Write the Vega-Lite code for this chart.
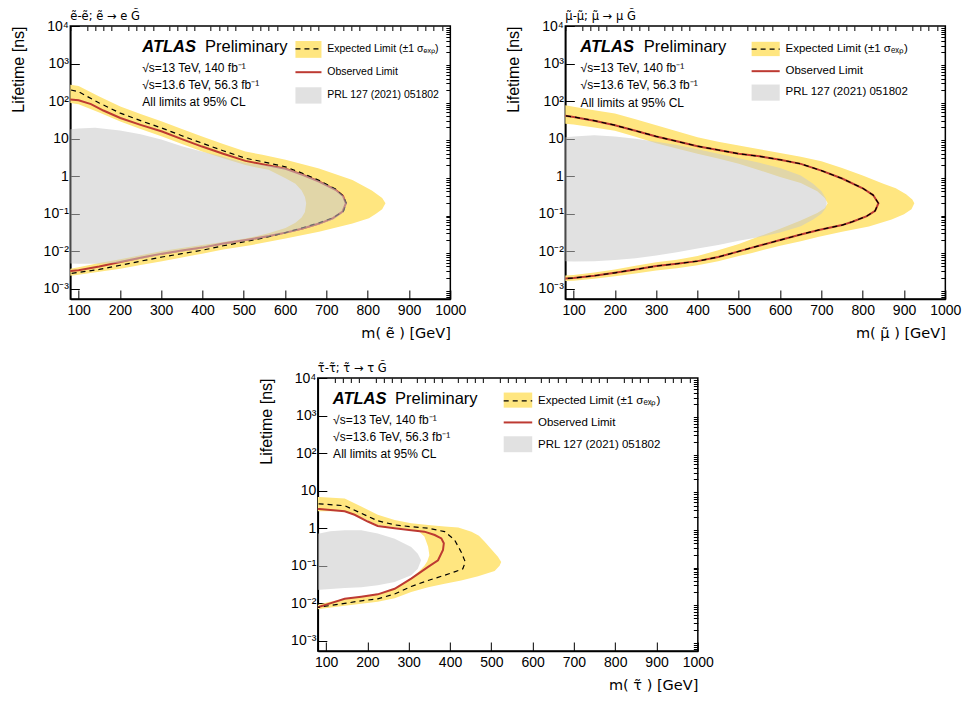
{
"$schema": "https://vega.github.io/schema/vega-lite/v6.json",
"background": "white",
"padding": {"left": 9, "top": 9, "right": 0, "bottom": 0},
"config": {
  "font": "Liberation Sans",
  "view": {"stroke": "black", "strokeWidth": 1.5},
  "axis": {"grid": false, "tickColor": "black", "domainColor": "black", "labelColor": "black", "titleColor": "black", "labelFont": "Liberation Sans", "titleFont": "Liberation Sans", "labelFontSize": 14, "titleFontSize": 16, "titleFontWeight": "normal", "zindex": 1, "labelFlush": false, "labelOverlap": false, "tickWidth": 1},
  "title": {"font": "DejaVu Sans", "fontSize": 11.5, "fontWeight": "normal", "color": "black", "anchor": "start", "frame": "group", "offset": -3}
},
"datasets": {
"p1": [
{"s":"band","i":0,"m":60,"t":295},{"s":"band","i":1,"m":80,"t":275},{"s":"band","i":2,"m":100,"t":251},{"s":"band","i":3,"m":150,"t":132},{"s":"band","i":4,"m":201,"t":72.4},{"s":"band","i":5,"m":250,"t":45.7},{"s":"band","i":6,"m":302,"t":28.8},{"s":"band","i":7,"m":350,"t":18.2},{"s":"band","i":8,"m":399,"t":11.5},{"s":"band","i":9,"m":450,"t":7.24},{"s":"band","i":10,"m":504,"t":4.57},{"s":"band","i":11,"m":545,"t":3.72},{"s":"band","i":12,"m":601,"t":2.75},{"s":"band","i":13,"m":682,"t":1.62},{"s":"band","i":14,"m":763,"t":0.794},{"s":"band","i":15,"m":810,"t":0.417},{"s":"band","i":16,"m":835,"t":0.263},{"s":"band","i":17,"m":843,"t":0.191},{"s":"band","i":18,"m":835,"t":0.132},{"s":"band","i":19,"m":820,"t":0.1},{"s":"band","i":20,"m":803,"t":0.0759},{"s":"band","i":21,"m":763,"t":0.055},{"s":"band","i":22,"m":682,"t":0.0331},{"s":"band","i":23,"m":601,"t":0.0219},{"s":"band","i":24,"m":520,"t":0.0148},{"s":"band","i":25,"m":450,"t":0.0112},{"s":"band","i":26,"m":399,"t":0.00871},{"s":"band","i":27,"m":350,"t":0.00692},{"s":"band","i":28,"m":302,"t":0.0055},{"s":"band","i":29,"m":250,"t":0.00437},{"s":"band","i":30,"m":201,"t":0.00347},{"s":"band","i":31,"m":150,"t":0.00288},{"s":"band","i":32,"m":100,"t":0.0024},{"s":"band","i":33,"m":80,"t":0.00224},{"s":"band","i":34,"m":60,"t":0.00214},
{"s":"band","i":35,"m":60,"t":0.00331},{"s":"band","i":36,"m":80,"t":0.00347},{"s":"band","i":37,"m":100,"t":0.0038},{"s":"band","i":38,"m":150,"t":0.0049},{"s":"band","i":39,"m":201,"t":0.00617},{"s":"band","i":40,"m":250,"t":0.00794},{"s":"band","i":41,"m":302,"t":0.0102},{"s":"band","i":42,"m":350,"t":0.0123},{"s":"band","i":43,"m":399,"t":0.0148},{"s":"band","i":44,"m":450,"t":0.0178},{"s":"band","i":45,"m":504,"t":0.0219},{"s":"band","i":46,"m":560,"t":0.0302},{"s":"band","i":47,"m":601,"t":0.0417},{"s":"band","i":48,"m":625,"t":0.0575},{"s":"band","i":49,"m":640,"t":0.0794},{"s":"band","i":50,"m":648,"t":0.112},{"s":"band","i":51,"m":651,"t":0.191},{"s":"band","i":52,"m":648,"t":0.282},{"s":"band","i":53,"m":640,"t":0.417},{"s":"band","i":54,"m":625,"t":0.631},{"s":"band","i":55,"m":601,"t":0.891},{"s":"band","i":56,"m":560,"t":1.48},{"s":"band","i":57,"m":520,"t":1.82},{"s":"band","i":58,"m":504,"t":2.0},{"s":"band","i":59,"m":450,"t":3.02},{"s":"band","i":60,"m":399,"t":4.57},{"s":"band","i":61,"m":350,"t":7.24},{"s":"band","i":62,"m":302,"t":11.5},{"s":"band","i":63,"m":250,"t":18.2},{"s":"band","i":64,"m":201,"t":28.8},{"s":"band","i":65,"m":150,"t":50.1},{"s":"band","i":66,"m":100,"t":83.2},{"s":"band","i":67,"m":80,"t":89.1},{"s":"band","i":68,"m":60,"t":93.3},
{"s":"obs","i":0,"m":60,"t":112},{"s":"obs","i":1,"m":80,"t":110},{"s":"obs","i":2,"m":100,"t":105},{"s":"obs","i":3,"m":130,"t":83.2},{"s":"obs","i":4,"m":160,"t":56.2},{"s":"obs","i":5,"m":201,"t":35.5},{"s":"obs","i":6,"m":250,"t":23.4},{"s":"obs","i":7,"m":302,"t":15.5},{"s":"obs","i":8,"m":350,"t":9.77},{"s":"obs","i":9,"m":399,"t":6.17},{"s":"obs","i":10,"m":450,"t":3.98},{"s":"obs","i":11,"m":504,"t":2.57},{"s":"obs","i":12,"m":545,"t":2.09},{"s":"obs","i":13,"m":601,"t":1.58},{"s":"obs","i":14,"m":642,"t":1.1},{"s":"obs","i":15,"m":682,"t":0.724},{"s":"obs","i":16,"m":722,"t":0.437},{"s":"obs","i":17,"m":740,"t":0.302},{"s":"obs","i":18,"m":747,"t":0.191},{"s":"obs","i":19,"m":739,"t":0.115},{"s":"obs","i":20,"m":715,"t":0.0759},{"s":"obs","i":21,"m":682,"t":0.055},{"s":"obs","i":22,"m":642,"t":0.0407},{"s":"obs","i":23,"m":601,"t":0.0316},{"s":"obs","i":24,"m":561,"t":0.0257},{"s":"obs","i":25,"m":520,"t":0.0214},{"s":"obs","i":26,"m":450,"t":0.0162},{"s":"obs","i":27,"m":399,"t":0.0126},{"s":"obs","i":28,"m":350,"t":0.0105},{"s":"obs","i":29,"m":302,"t":0.00871},{"s":"obs","i":30,"m":250,"t":0.00676},{"s":"obs","i":31,"m":201,"t":0.00525},{"s":"obs","i":32,"m":150,"t":0.00398},{"s":"obs","i":33,"m":100,"t":0.00316},{"s":"obs","i":34,"m":80,"t":0.00302},{"s":"obs","i":35,"m":60,"t":0.00288},
{"s":"exp","i":0,"m":60,"t":209},{"s":"exp","i":1,"m":80,"t":200},{"s":"exp","i":2,"m":100,"t":178},{"s":"exp","i":3,"m":150,"t":89.1},{"s":"exp","i":4,"m":201,"t":47.9},{"s":"exp","i":5,"m":250,"t":30.2},{"s":"exp","i":6,"m":302,"t":19.1},{"s":"exp","i":7,"m":350,"t":12.0},{"s":"exp","i":8,"m":399,"t":7.59},{"s":"exp","i":9,"m":450,"t":4.79},{"s":"exp","i":10,"m":504,"t":3.02},{"s":"exp","i":11,"m":545,"t":2.45},{"s":"exp","i":12,"m":601,"t":1.78},{"s":"exp","i":13,"m":642,"t":1.2},{"s":"exp","i":14,"m":682,"t":0.776},{"s":"exp","i":15,"m":722,"t":0.457},{"s":"exp","i":16,"m":740,"t":0.302},{"s":"exp","i":17,"m":748,"t":0.191},{"s":"exp","i":18,"m":741,"t":0.117},{"s":"exp","i":19,"m":717,"t":0.0794},{"s":"exp","i":20,"m":682,"t":0.0575},{"s":"exp","i":21,"m":642,"t":0.0427},{"s":"exp","i":22,"m":601,"t":0.0316},{"s":"exp","i":23,"m":545,"t":0.0224},{"s":"exp","i":24,"m":504,"t":0.0182},{"s":"exp","i":25,"m":450,"t":0.0141},{"s":"exp","i":26,"m":399,"t":0.0107},{"s":"exp","i":27,"m":350,"t":0.00871},{"s":"exp","i":28,"m":302,"t":0.00708},{"s":"exp","i":29,"m":250,"t":0.0055},{"s":"exp","i":30,"m":201,"t":0.00427},{"s":"exp","i":31,"m":150,"t":0.00331},{"s":"exp","i":32,"m":100,"t":0.00275},{"s":"exp","i":33,"m":80,"t":0.00257},{"s":"exp","i":34,"m":60,"t":0.00245},
{"s":"prl","i":0,"m":60,"t":17.4},{"s":"prl","i":1,"m":80,"t":17.8},{"s":"prl","i":2,"m":100,"t":18.6},{"s":"prl","i":3,"m":140,"t":19.5},{"s":"prl","i":4,"m":200,"t":16.6},{"s":"prl","i":5,"m":250,"t":13.2},{"s":"prl","i":6,"m":300,"t":9.55},{"s":"prl","i":7,"m":350,"t":6.31},{"s":"prl","i":8,"m":400,"t":4.47},{"s":"prl","i":9,"m":450,"t":3.31},{"s":"prl","i":10,"m":500,"t":2.34},{"s":"prl","i":11,"m":550,"t":1.95},{"s":"prl","i":12,"m":580,"t":1.78},{"s":"prl","i":13,"m":601,"t":1.66},{"s":"prl","i":14,"m":642,"t":1.15},{"s":"prl","i":15,"m":682,"t":0.759},{"s":"prl","i":16,"m":722,"t":0.457},{"s":"prl","i":17,"m":741,"t":0.302},{"s":"prl","i":18,"m":750,"t":0.191},{"s":"prl","i":19,"m":742,"t":0.11},{"s":"prl","i":20,"m":717,"t":0.0708},{"s":"prl","i":21,"m":682,"t":0.0513},{"s":"prl","i":22,"m":642,"t":0.038},{"s":"prl","i":23,"m":601,"t":0.0295},{"s":"prl","i":24,"m":561,"t":0.024},{"s":"prl","i":25,"m":520,"t":0.02},{"s":"prl","i":26,"m":450,"t":0.0151},{"s":"prl","i":27,"m":399,"t":0.0117},{"s":"prl","i":28,"m":350,"t":0.00977},{"s":"prl","i":29,"m":302,"t":0.00813},{"s":"prl","i":30,"m":250,"t":0.00631},{"s":"prl","i":31,"m":201,"t":0.00501},{"s":"prl","i":32,"m":150,"t":0.00468},{"s":"prl","i":33,"m":100,"t":0.00468},{"s":"prl","i":34,"m":80,"t":0.00479},{"s":"prl","i":35,"m":60,"t":0.00479}
],
"p2": [
{"s":"band","i":0,"m":60,"t":79.4},{"s":"band","i":1,"m":80,"t":77.6},{"s":"band","i":2,"m":100,"t":70.8},{"s":"band","i":3,"m":150,"t":57.5},{"s":"band","i":4,"m":200,"t":46.8},{"s":"band","i":5,"m":250,"t":33.1},{"s":"band","i":6,"m":300,"t":22.9},{"s":"band","i":7,"m":350,"t":15.8},{"s":"band","i":8,"m":400,"t":11.0},{"s":"band","i":9,"m":450,"t":8.32},{"s":"band","i":10,"m":500,"t":6.61},{"s":"band","i":11,"m":550,"t":5.25},{"s":"band","i":12,"m":600,"t":4.17},{"s":"band","i":13,"m":650,"t":3.31},{"s":"band","i":14,"m":700,"t":2.51},{"s":"band","i":15,"m":750,"t":1.66},{"s":"band","i":16,"m":800,"t":1.05},{"s":"band","i":17,"m":850,"t":0.631},{"s":"band","i":18,"m":880,"t":0.479},{"s":"band","i":19,"m":905,"t":0.331},{"s":"band","i":20,"m":920,"t":0.24},{"s":"band","i":21,"m":925,"t":0.191},{"s":"band","i":22,"m":918,"t":0.132},{"s":"band","i":23,"m":900,"t":0.0977},{"s":"band","i":24,"m":870,"t":0.0708},{"s":"band","i":25,"m":815,"t":0.0457},{"s":"band","i":26,"m":750,"t":0.0331},{"s":"band","i":27,"m":694,"t":0.0245},{"s":"band","i":28,"m":650,"t":0.0186},{"s":"band","i":29,"m":600,"t":0.0141},{"s":"band","i":30,"m":532,"t":0.00912},{"s":"band","i":31,"m":500,"t":0.00759},{"s":"band","i":32,"m":450,"t":0.0055},{"s":"band","i":33,"m":400,"t":0.00427},{"s":"band","i":34,"m":350,"t":0.00355},{"s":"band","i":35,"m":300,"t":0.00309},{"s":"band","i":36,"m":250,"t":0.00257},{"s":"band","i":37,"m":200,"t":0.00219},{"s":"band","i":38,"m":150,"t":0.00186},{"s":"band","i":39,"m":100,"t":0.00166},{"s":"band","i":40,"m":80,"t":0.00162},{"s":"band","i":41,"m":60,"t":0.00158},
{"s":"band","i":42,"m":60,"t":0.00229},{"s":"band","i":43,"m":80,"t":0.00229},{"s":"band","i":44,"m":100,"t":0.00234},{"s":"band","i":45,"m":150,"t":0.00275},{"s":"band","i":46,"m":200,"t":0.00331},{"s":"band","i":47,"m":250,"t":0.00417},{"s":"band","i":48,"m":300,"t":0.00513},{"s":"band","i":49,"m":350,"t":0.00603},{"s":"band","i":50,"m":400,"t":0.00759},{"s":"band","i":51,"m":450,"t":0.0107},{"s":"band","i":52,"m":500,"t":0.0158},{"s":"band","i":53,"m":550,"t":0.0251},{"s":"band","i":54,"m":600,"t":0.0398},{"s":"band","i":55,"m":650,"t":0.0661},{"s":"band","i":56,"m":690,"t":0.105},{"s":"band","i":57,"m":708,"t":0.141},{"s":"band","i":58,"m":715,"t":0.191},{"s":"band","i":59,"m":708,"t":0.263},{"s":"band","i":60,"m":690,"t":0.398},{"s":"band","i":61,"m":650,"t":0.661},{"s":"band","i":62,"m":600,"t":0.955},{"s":"band","i":63,"m":550,"t":1.45},{"s":"band","i":64,"m":500,"t":2.14},{"s":"band","i":65,"m":450,"t":2.95},{"s":"band","i":66,"m":400,"t":3.98},{"s":"band","i":67,"m":350,"t":5.5},{"s":"band","i":68,"m":300,"t":7.59},{"s":"band","i":69,"m":250,"t":11.2},{"s":"band","i":70,"m":200,"t":16.2},{"s":"band","i":71,"m":150,"t":20.0},{"s":"band","i":72,"m":100,"t":24.0},{"s":"band","i":73,"m":80,"t":25.1},{"s":"band","i":74,"m":60,"t":25.7},
{"s":"obs","i":0,"m":60,"t":41.7},{"s":"obs","i":1,"m":80,"t":40.7},{"s":"obs","i":2,"m":100,"t":38.0},{"s":"obs","i":3,"m":150,"t":30.2},{"s":"obs","i":4,"m":200,"t":22.9},{"s":"obs","i":5,"m":250,"t":16.2},{"s":"obs","i":6,"m":300,"t":11.5},{"s":"obs","i":7,"m":350,"t":8.51},{"s":"obs","i":8,"m":400,"t":6.31},{"s":"obs","i":9,"m":450,"t":5.01},{"s":"obs","i":10,"m":500,"t":3.98},{"s":"obs","i":11,"m":550,"t":3.39},{"s":"obs","i":12,"m":600,"t":2.75},{"s":"obs","i":13,"m":650,"t":2.14},{"s":"obs","i":14,"m":700,"t":1.41},{"s":"obs","i":15,"m":750,"t":0.871},{"s":"obs","i":16,"m":800,"t":0.479},{"s":"obs","i":17,"m":825,"t":0.316},{"s":"obs","i":18,"m":838,"t":0.191},{"s":"obs","i":19,"m":830,"t":0.12},{"s":"obs","i":20,"m":810,"t":0.0871},{"s":"obs","i":21,"m":775,"t":0.0617},{"s":"obs","i":22,"m":750,"t":0.0501},{"s":"obs","i":23,"m":694,"t":0.0372},{"s":"obs","i":24,"m":650,"t":0.0282},{"s":"obs","i":25,"m":600,"t":0.02},{"s":"obs","i":26,"m":532,"t":0.0126},{"s":"obs","i":27,"m":500,"t":0.01},{"s":"obs","i":28,"m":450,"t":0.00708},{"s":"obs","i":29,"m":400,"t":0.0055},{"s":"obs","i":30,"m":350,"t":0.00468},{"s":"obs","i":31,"m":300,"t":0.00407},{"s":"obs","i":32,"m":250,"t":0.00331},{"s":"obs","i":33,"m":200,"t":0.00269},{"s":"obs","i":34,"m":150,"t":0.00224},{"s":"obs","i":35,"m":100,"t":0.00195},{"s":"obs","i":36,"m":80,"t":0.00191},{"s":"obs","i":37,"m":60,"t":0.00191},
{"s":"exp","i":0,"m":60,"t":41.7},{"s":"exp","i":1,"m":80,"t":40.7},{"s":"exp","i":2,"m":100,"t":38.0},{"s":"exp","i":3,"m":150,"t":30.2},{"s":"exp","i":4,"m":200,"t":22.9},{"s":"exp","i":5,"m":250,"t":16.2},{"s":"exp","i":6,"m":300,"t":11.5},{"s":"exp","i":7,"m":350,"t":8.51},{"s":"exp","i":8,"m":400,"t":6.31},{"s":"exp","i":9,"m":450,"t":5.01},{"s":"exp","i":10,"m":500,"t":3.98},{"s":"exp","i":11,"m":550,"t":3.39},{"s":"exp","i":12,"m":600,"t":2.75},{"s":"exp","i":13,"m":650,"t":2.14},{"s":"exp","i":14,"m":700,"t":1.41},{"s":"exp","i":15,"m":750,"t":0.871},{"s":"exp","i":16,"m":800,"t":0.479},{"s":"exp","i":17,"m":825,"t":0.316},{"s":"exp","i":18,"m":838,"t":0.191},{"s":"exp","i":19,"m":830,"t":0.12},{"s":"exp","i":20,"m":810,"t":0.0871},{"s":"exp","i":21,"m":775,"t":0.0617},{"s":"exp","i":22,"m":750,"t":0.0501},{"s":"exp","i":23,"m":694,"t":0.0372},{"s":"exp","i":24,"m":650,"t":0.0282},{"s":"exp","i":25,"m":600,"t":0.02},{"s":"exp","i":26,"m":532,"t":0.0126},{"s":"exp","i":27,"m":500,"t":0.01},{"s":"exp","i":28,"m":450,"t":0.00708},{"s":"exp","i":29,"m":400,"t":0.0055},{"s":"exp","i":30,"m":350,"t":0.00468},{"s":"exp","i":31,"m":300,"t":0.00407},{"s":"exp","i":32,"m":250,"t":0.00331},{"s":"exp","i":33,"m":200,"t":0.00269},{"s":"exp","i":34,"m":150,"t":0.00224},{"s":"exp","i":35,"m":100,"t":0.00195},{"s":"exp","i":36,"m":80,"t":0.00191},{"s":"exp","i":37,"m":60,"t":0.00191},
{"s":"prl","i":0,"m":60,"t":10.7},{"s":"prl","i":1,"m":80,"t":11.0},{"s":"prl","i":2,"m":100,"t":11.5},{"s":"prl","i":3,"m":150,"t":12.3},{"s":"prl","i":4,"m":200,"t":11.5},{"s":"prl","i":5,"m":250,"t":10.0},{"s":"prl","i":6,"m":300,"t":8.32},{"s":"prl","i":7,"m":350,"t":6.76},{"s":"prl","i":8,"m":400,"t":5.25},{"s":"prl","i":9,"m":450,"t":3.98},{"s":"prl","i":10,"m":500,"t":3.02},{"s":"prl","i":11,"m":550,"t":2.29},{"s":"prl","i":12,"m":600,"t":1.66},{"s":"prl","i":13,"m":650,"t":1.05},{"s":"prl","i":14,"m":680,"t":0.631},{"s":"prl","i":15,"m":700,"t":0.398},{"s":"prl","i":16,"m":710,"t":0.263},{"s":"prl","i":17,"m":713,"t":0.191},{"s":"prl","i":18,"m":710,"t":0.138},{"s":"prl","i":19,"m":700,"t":0.1},{"s":"prl","i":20,"m":680,"t":0.0708},{"s":"prl","i":21,"m":650,"t":0.0468},{"s":"prl","i":22,"m":600,"t":0.0316},{"s":"prl","i":23,"m":550,"t":0.024},{"s":"prl","i":24,"m":500,"t":0.0191},{"s":"prl","i":25,"m":450,"t":0.0148},{"s":"prl","i":26,"m":400,"t":0.012},{"s":"prl","i":27,"m":350,"t":0.00955},{"s":"prl","i":28,"m":300,"t":0.00776},{"s":"prl","i":29,"m":250,"t":0.00661},{"s":"prl","i":30,"m":200,"t":0.00589},{"s":"prl","i":31,"m":150,"t":0.0055},{"s":"prl","i":32,"m":100,"t":0.00537},{"s":"prl","i":33,"m":80,"t":0.0055},{"s":"prl","i":34,"m":60,"t":0.0055}
],
"p3": [
{"s":"band","i":0,"m":60,"t":6.92},{"s":"band","i":1,"m":84,"t":6.76},{"s":"band","i":2,"m":145,"t":6.17},{"s":"band","i":3,"m":185,"t":3.8},{"s":"band","i":4,"m":225,"t":2.29},{"s":"band","i":5,"m":266,"t":1.66},{"s":"band","i":6,"m":306,"t":1.35},{"s":"band","i":7,"m":347,"t":1.23},{"s":"band","i":8,"m":387,"t":1.12},{"s":"band","i":9,"m":420,"t":1.05},{"s":"band","i":10,"m":452,"t":0.813},{"s":"band","i":11,"m":470,"t":0.631},{"s":"band","i":12,"m":484,"t":0.437},{"s":"band","i":13,"m":500,"t":0.275},{"s":"band","i":14,"m":516,"t":0.174},{"s":"band","i":15,"m":524,"t":0.126},{"s":"band","i":16,"m":520,"t":0.1},{"s":"band","i":17,"m":508,"t":0.0724},{"s":"band","i":18,"m":468,"t":0.0525},{"s":"band","i":19,"m":427,"t":0.0407},{"s":"band","i":20,"m":387,"t":0.0331},{"s":"band","i":21,"m":347,"t":0.0269},{"s":"band","i":22,"m":306,"t":0.02},{"s":"band","i":23,"m":266,"t":0.0138},{"s":"band","i":24,"m":225,"t":0.011},{"s":"band","i":25,"m":185,"t":0.00977},{"s":"band","i":26,"m":145,"t":0.00871},{"s":"band","i":27,"m":84,"t":0.00708},{"s":"band","i":28,"m":60,"t":0.00676},
{"s":"band","i":29,"m":60,"t":0.00891},{"s":"band","i":30,"m":84,"t":0.00933},{"s":"band","i":31,"m":104,"t":0.0107},{"s":"band","i":32,"m":145,"t":0.0132},{"s":"band","i":33,"m":185,"t":0.0151},{"s":"band","i":34,"m":225,"t":0.0178},{"s":"band","i":35,"m":266,"t":0.0251},{"s":"band","i":36,"m":290,"t":0.0355},{"s":"band","i":37,"m":306,"t":0.0468},{"s":"band","i":38,"m":322,"t":0.0661},{"s":"band","i":39,"m":338,"t":0.1},{"s":"band","i":40,"m":345,"t":0.132},{"s":"band","i":41,"m":350,"t":0.191},{"s":"band","i":42,"m":347,"t":0.324},{"s":"band","i":43,"m":338,"t":0.603},{"s":"band","i":44,"m":322,"t":0.871},{"s":"band","i":45,"m":306,"t":0.933},{"s":"band","i":46,"m":266,"t":1.07},{"s":"band","i":47,"m":225,"t":1.23},{"s":"band","i":48,"m":185,"t":1.95},{"s":"band","i":49,"m":145,"t":2.82},{"s":"band","i":50,"m":84,"t":2.82},{"s":"band","i":51,"m":60,"t":2.82},
{"s":"obs","i":0,"m":60,"t":3.31},{"s":"obs","i":1,"m":84,"t":3.24},{"s":"obs","i":2,"m":104,"t":3.09},{"s":"obs","i":3,"m":145,"t":2.82},{"s":"obs","i":4,"m":169,"t":2.29},{"s":"obs","i":5,"m":201,"t":1.51},{"s":"obs","i":6,"m":225,"t":1.15},{"s":"obs","i":7,"m":266,"t":1.0},{"s":"obs","i":8,"m":306,"t":0.891},{"s":"obs","i":9,"m":338,"t":0.813},{"s":"obs","i":10,"m":363,"t":0.661},{"s":"obs","i":11,"m":379,"t":0.537},{"s":"obs","i":12,"m":385,"t":0.398},{"s":"obs","i":13,"m":383,"t":0.263},{"s":"obs","i":14,"m":371,"t":0.141},{"s":"obs","i":15,"m":347,"t":0.0933},{"s":"obs","i":16,"m":306,"t":0.0457},{"s":"obs","i":17,"m":266,"t":0.0245},{"s":"obs","i":18,"m":225,"t":0.0174},{"s":"obs","i":19,"m":185,"t":0.0151},{"s":"obs","i":20,"m":145,"t":0.0132},{"s":"obs","i":21,"m":104,"t":0.00955},{"s":"obs","i":22,"m":84,"t":0.00813},{"s":"obs","i":23,"m":60,"t":0.00741},
{"s":"exp","i":0,"m":60,"t":4.57},{"s":"exp","i":1,"m":84,"t":4.47},{"s":"exp","i":2,"m":145,"t":3.98},{"s":"exp","i":3,"m":185,"t":2.51},{"s":"exp","i":4,"m":225,"t":1.58},{"s":"exp","i":5,"m":266,"t":1.23},{"s":"exp","i":6,"m":306,"t":1.1},{"s":"exp","i":7,"m":347,"t":1.0},{"s":"exp","i":8,"m":387,"t":0.813},{"s":"exp","i":9,"m":411,"t":0.49},{"s":"exp","i":10,"m":427,"t":0.234},{"s":"exp","i":11,"m":437,"t":0.126},{"s":"exp","i":12,"m":431,"t":0.0832},{"s":"exp","i":13,"m":411,"t":0.0692},{"s":"exp","i":14,"m":387,"t":0.0562},{"s":"exp","i":15,"m":347,"t":0.0407},{"s":"exp","i":16,"m":306,"t":0.0282},{"s":"exp","i":17,"m":266,"t":0.0178},{"s":"exp","i":18,"m":225,"t":0.0132},{"s":"exp","i":19,"m":185,"t":0.0117},{"s":"exp","i":20,"m":145,"t":0.01},{"s":"exp","i":21,"m":84,"t":0.00794},{"s":"exp","i":22,"m":60,"t":0.00759},
{"s":"prl","i":0,"m":60,"t":0.724},{"s":"prl","i":1,"m":84,"t":0.724},{"s":"prl","i":2,"m":110,"t":0.832},{"s":"prl","i":3,"m":145,"t":0.891},{"s":"prl","i":4,"m":185,"t":0.891},{"s":"prl","i":5,"m":225,"t":0.724},{"s":"prl","i":6,"m":266,"t":0.525},{"s":"prl","i":7,"m":306,"t":0.316},{"s":"prl","i":8,"m":322,"t":0.209},{"s":"prl","i":9,"m":330,"t":0.141},{"s":"prl","i":10,"m":322,"t":0.0832},{"s":"prl","i":11,"m":306,"t":0.0562},{"s":"prl","i":12,"m":266,"t":0.0372},{"s":"prl","i":13,"m":225,"t":0.0302},{"s":"prl","i":14,"m":185,"t":0.0269},{"s":"prl","i":15,"m":145,"t":0.0257},{"s":"prl","i":16,"m":84,"t":0.0229},{"s":"prl","i":17,"m":60,"t":0.0224}
]
},
"vconcat": [
{"hconcat": [
{
"width": 380, "height": 273,
"title": {"text": "\u1ebd-\u1ebd; \u1ebd \u2192 e G\u0303"},
"resolve": {"axis": {"x": "independent", "y": "independent"}},
"layer": [
{"data": {"name": "p1"}, "transform": [{"filter": "datum.s == 'band'"}],
 "mark": {"type": "line", "fill": "#ffe680", "stroke": "transparent", "clip": true},
 "encoding": {
  "x": {"field": "m", "type": "quantitative", "scale": {"domain": [80, 1000], "nice": false, "zero": false},
        "axis": {"values": [100,200,300,400,500,600,700,800,900,1000], "format": "d", "tickSize": -9, "labelPadding": 13, "domain": true, "domainWidth": 1.5, "title": "m( \u1ebd ) [GeV]", "titleFont": "DejaVu Sans", "titleFontSize": 14.5, "titleAnchor": "end", "titlePadding": 9}},
  "y": {"field": "t", "type": "quantitative", "scale": {"type": "log", "domain": [0.00054, 10000], "nice": false},
        "axis": {"values": [0.001,0.01,0.1,1,10,100,1000,10000], "tickSize": -9, "labelPadding": 11, "domain": true, "domainWidth": 1.5, "labelExpr": "['10\u207b\u00b3','10\u207b\u00b2','10\u207b\u00b9','1','10','10\u00b2','10\u00b3','10\u2074'][round(log(datum.value)/LN10)+3]", "title": "Lifetime [ns]", "titleAnchor": "end", "titlePadding": 16.5}},
  "order": {"field": "i", "type": "quantitative"}}},
{"data": {"name": "p1"}, "transform": [{"filter": "datum.s == 'obs'"}],
 "mark": {"type": "line", "color": "#bd3a32", "strokeWidth": 2, "clip": true},
 "encoding": {
  "x": {"field": "m", "type": "quantitative", "scale": {"domain": [80, 1000], "nice": false, "zero": false},
        "axis": {"values": [80,120,140,160,180,220,240,260,280,320,340,360,380,420,440,460,480,520,540,560,580,620,640,660,680,720,740,760,780,820,840,860,880,920,940,960,980], "tickSize": -4.5, "labels": false, "domain": false, "title": null}},
  "y": {"field": "t", "type": "quantitative", "scale": {"type": "log", "domain": [0.00054, 10000], "nice": false},
        "axis": {"values": [0.0006,0.0007,0.0008,0.0009,0.002,0.003,0.004,0.005,0.006,0.007,0.008,0.009,0.02,0.03,0.04,0.05,0.06,0.07,0.08,0.09,0.2,0.3,0.4,0.5,0.6,0.7,0.8,0.9,2,3,4,5,6,7,8,9,20,30,40,50,60,70,80,90,200,300,400,500,600,700,800,900,2000,3000,4000,5000,6000,7000,8000,9000], "tickSize": -4.5, "labels": false, "domain": false, "title": null}},
  "order": {"field": "i", "type": "quantitative"}}},
{"data": {"name": "p1"}, "transform": [{"filter": "datum.s == 'exp'"}],
 "mark": {"type": "line", "color": "black", "strokeWidth": 1.2, "strokeDash": [5, 4], "clip": true},
 "encoding": {
  "x": {"field": "m", "type": "quantitative", "scale": {"domain": [80, 1000], "nice": false, "zero": false}, "axis": null},
  "y": {"field": "t", "type": "quantitative", "scale": {"type": "log", "domain": [0.00054, 10000], "nice": false}, "axis": null},
  "order": {"field": "i", "type": "quantitative"}}},
{"data": {"name": "p1"}, "transform": [{"filter": "datum.s == 'prl'"}],
 "mark": {"type": "line", "fill": "#c8c8c8", "stroke": "transparent", "opacity": 0.55, "clip": true},
 "encoding": {
  "x": {"field": "m", "type": "quantitative", "scale": {"domain": [80, 1000], "nice": false, "zero": false}, "axis": null},
  "y": {"field": "t", "type": "quantitative", "scale": {"type": "log", "domain": [0.00054, 10000], "nice": false}, "axis": null},
  "order": {"field": "i", "type": "quantitative"}}},
{"data": {"values": [{}]}, "mark": {"type": "text", "text": "ATLAS", "fontStyle": "italic", "fontWeight": "bold", "fontSize": 16.5, "align": "left", "baseline": "middle", "color": "black"},
 "encoding": {"x": {"datum": 254, "type": "quantitative", "scale": {"domain": [80, 1000], "nice": false, "zero": false}, "axis": null}, "y": {"datum": 2700, "type": "quantitative", "scale": {"type": "log", "domain": [0.00054, 10000], "nice": false}, "axis": null}}},
{"data": {"values": [{}]}, "mark": {"type": "text", "text": "Preliminary", "fontSize": 16.5, "align": "left", "baseline": "middle", "color": "black"},
 "encoding": {"x": {"datum": 406, "type": "quantitative", "scale": {"domain": [80, 1000], "nice": false, "zero": false}, "axis": null}, "y": {"datum": 2700, "type": "quantitative", "scale": {"type": "log", "domain": [0.00054, 10000], "nice": false}, "axis": null}}},
{"data": {"values": [{}]}, "mark": {"type": "text", "text": ["\u221as=13 TeV, 140 fb\u207b\u00b9", "\u221as=13.6 TeV, 56.3 fb\u207b\u00b9", "All limits at 95% CL"], "lineHeight": 17.2, "fontSize": 12, "align": "left", "baseline": "middle", "color": "black"},
 "encoding": {"x": {"datum": 254, "type": "quantitative", "scale": {"domain": [80, 1000], "nice": false, "zero": false}, "axis": null}, "y": {"datum": 768, "type": "quantitative", "scale": {"type": "log", "domain": [0.00054, 10000], "nice": false}, "axis": null}}},
{"data": {"values": [{}]}, "mark": {"type": "text", "text": ["Expected Limit (\u00b11 \u03c3\u2091\u2093\u209a)", "Observed Limit", "PRL 127 (2021) 051802"], "lineHeight": 23.2, "fontSize": 10.5, "align": "left", "baseline": "middle", "color": "black"},
 "encoding": {"x": {"datum": 702, "type": "quantitative", "scale": {"domain": [80, 1000], "nice": false, "zero": false}, "axis": null}, "y": {"datum": 2470, "type": "quantitative", "scale": {"type": "log", "domain": [0.00054, 10000], "nice": false}, "axis": null}}},
{"data": {"values": [{}]}, "mark": {"type": "rect", "color": "#ffe680"},
 "encoding": {"x": {"datum": 625, "type": "quantitative", "scale": {"domain": [80, 1000], "nice": false, "zero": false}, "axis": null}, "x2": {"datum": 688}, "y": {"datum": 1420, "type": "quantitative", "scale": {"type": "log", "domain": [0.00054, 10000], "nice": false}, "axis": null}, "y2": {"datum": 3980}}},
{"data": {"values": [{}]}, "mark": {"type": "rule", "color": "black", "strokeWidth": 1.2, "strokeDash": [5, 4]},
 "encoding": {"x": {"datum": 625, "type": "quantitative", "scale": {"domain": [80, 1000], "nice": false, "zero": false}, "axis": null}, "x2": {"datum": 688}, "y": {"datum": 2470, "type": "quantitative", "scale": {"type": "log", "domain": [0.00054, 10000], "nice": false}, "axis": null}}},
{"data": {"values": [{}]}, "mark": {"type": "rule", "color": "#bd3a32", "strokeWidth": 2},
 "encoding": {"x": {"datum": 625, "type": "quantitative", "scale": {"domain": [80, 1000], "nice": false, "zero": false}, "axis": null}, "x2": {"datum": 688}, "y": {"datum": 589, "type": "quantitative", "scale": {"type": "log", "domain": [0.00054, 10000], "nice": false}, "axis": null}}},
{"data": {"values": [{}]}, "mark": {"type": "rect", "color": "#c8c8c8", "opacity": 0.55},
 "encoding": {"x": {"datum": 625, "type": "quantitative", "scale": {"domain": [80, 1000], "nice": false, "zero": false}, "axis": null}, "x2": {"datum": 688}, "y": {"datum": 86, "type": "quantitative", "scale": {"type": "log", "domain": [0.00054, 10000], "nice": false}, "axis": null}, "y2": {"datum": 234}}}
]
},
{
"width": 380, "height": 273,
"title": {"text": "\u03bc\u0303-\u03bc\u0303; \u03bc\u0303 \u2192 \u03bc G\u0303"},
"resolve": {"axis": {"x": "independent", "y": "independent"}},
"layer": [
{"data": {"name": "p2"}, "transform": [{"filter": "datum.s == 'band'"}],
 "mark": {"type": "line", "fill": "#ffe680", "stroke": "transparent", "clip": true},
 "encoding": {
  "x": {"field": "m", "type": "quantitative", "scale": {"domain": [80, 1000], "nice": false, "zero": false},
        "axis": {"values": [100,200,300,400,500,600,700,800,900,1000], "format": "d", "tickSize": -9, "labelPadding": 13, "domain": true, "domainWidth": 1.5, "title": "m( \u03bc\u0303 ) [GeV]", "titleFont": "DejaVu Sans", "titleFontSize": 14.5, "titleAnchor": "end", "titlePadding": 9}},
  "y": {"field": "t", "type": "quantitative", "scale": {"type": "log", "domain": [0.00054, 10000], "nice": false},
        "axis": {"values": [0.001,0.01,0.1,1,10,100,1000,10000], "tickSize": -9, "labelPadding": 11, "domain": true, "domainWidth": 1.5, "labelExpr": "['10\u207b\u00b3','10\u207b\u00b2','10\u207b\u00b9','1','10','10\u00b2','10\u00b3','10\u2074'][round(log(datum.value)/LN10)+3]", "title": "Lifetime [ns]", "titleAnchor": "end", "titlePadding": 16.5}},
  "order": {"field": "i", "type": "quantitative"}}},
{"data": {"name": "p2"}, "transform": [{"filter": "datum.s == 'obs'"}],
 "mark": {"type": "line", "color": "#bd3a32", "strokeWidth": 2, "clip": true},
 "encoding": {
  "x": {"field": "m", "type": "quantitative", "scale": {"domain": [80, 1000], "nice": false, "zero": false},
        "axis": {"values": [80,120,140,160,180,220,240,260,280,320,340,360,380,420,440,460,480,520,540,560,580,620,640,660,680,720,740,760,780,820,840,860,880,920,940,960,980], "tickSize": -4.5, "labels": false, "domain": false, "title": null}},
  "y": {"field": "t", "type": "quantitative", "scale": {"type": "log", "domain": [0.00054, 10000], "nice": false},
        "axis": {"values": [0.0006,0.0007,0.0008,0.0009,0.002,0.003,0.004,0.005,0.006,0.007,0.008,0.009,0.02,0.03,0.04,0.05,0.06,0.07,0.08,0.09,0.2,0.3,0.4,0.5,0.6,0.7,0.8,0.9,2,3,4,5,6,7,8,9,20,30,40,50,60,70,80,90,200,300,400,500,600,700,800,900,2000,3000,4000,5000,6000,7000,8000,9000], "tickSize": -4.5, "labels": false, "domain": false, "title": null}},
  "order": {"field": "i", "type": "quantitative"}}},
{"data": {"name": "p2"}, "transform": [{"filter": "datum.s == 'exp'"}],
 "mark": {"type": "line", "color": "black", "strokeWidth": 1.2, "strokeDash": [5, 4], "clip": true},
 "encoding": {
  "x": {"field": "m", "type": "quantitative", "scale": {"domain": [80, 1000], "nice": false, "zero": false}, "axis": null},
  "y": {"field": "t", "type": "quantitative", "scale": {"type": "log", "domain": [0.00054, 10000], "nice": false}, "axis": null},
  "order": {"field": "i", "type": "quantitative"}}},
{"data": {"name": "p2"}, "transform": [{"filter": "datum.s == 'prl'"}],
 "mark": {"type": "line", "fill": "#c8c8c8", "stroke": "transparent", "opacity": 0.55, "clip": true},
 "encoding": {
  "x": {"field": "m", "type": "quantitative", "scale": {"domain": [80, 1000], "nice": false, "zero": false}, "axis": null},
  "y": {"field": "t", "type": "quantitative", "scale": {"type": "log", "domain": [0.00054, 10000], "nice": false}, "axis": null},
  "order": {"field": "i", "type": "quantitative"}}},
{"data": {"values": [{}]}, "mark": {"type": "text", "text": "ATLAS", "fontStyle": "italic", "fontWeight": "bold", "fontSize": 16.5, "align": "left", "baseline": "middle", "color": "black"},
 "encoding": {"x": {"datum": 116, "type": "quantitative", "scale": {"domain": [80, 1000], "nice": false, "zero": false}, "axis": null}, "y": {"datum": 2700, "type": "quantitative", "scale": {"type": "log", "domain": [0.00054, 10000], "nice": false}, "axis": null}}},
{"data": {"values": [{}]}, "mark": {"type": "text", "text": "Preliminary", "fontSize": 16.5, "align": "left", "baseline": "middle", "color": "black"},
 "encoding": {"x": {"datum": 270, "type": "quantitative", "scale": {"domain": [80, 1000], "nice": false, "zero": false}, "axis": null}, "y": {"datum": 2700, "type": "quantitative", "scale": {"type": "log", "domain": [0.00054, 10000], "nice": false}, "axis": null}}},
{"data": {"values": [{}]}, "mark": {"type": "text", "text": ["\u221as=13 TeV, 140 fb\u207b\u00b9", "\u221as=13.6 TeV, 56.3 fb\u207b\u00b9", "All limits at 95% CL"], "lineHeight": 17.5, "fontSize": 12, "align": "left", "baseline": "middle", "color": "black"},
 "encoding": {"x": {"datum": 117, "type": "quantitative", "scale": {"domain": [80, 1000], "nice": false, "zero": false}, "axis": null}, "y": {"datum": 768, "type": "quantitative", "scale": {"type": "log", "domain": [0.00054, 10000], "nice": false}, "axis": null}}},
{"data": {"values": [{}]}, "mark": {"type": "text", "text": ["Expected Limit (\u00b11 \u03c3\u2091\u2093\u209a)", "Observed Limit", "PRL 127 (2021) 051802"], "lineHeight": 21.7, "fontSize": 11.5, "align": "left", "baseline": "middle", "color": "black"},
 "encoding": {"x": {"datum": 613, "type": "quantitative", "scale": {"domain": [80, 1000], "nice": false, "zero": false}, "axis": null}, "y": {"datum": 2427, "type": "quantitative", "scale": {"type": "log", "domain": [0.00054, 10000], "nice": false}, "axis": null}}},
{"data": {"values": [{}]}, "mark": {"type": "rect", "color": "#ffe680"},
 "encoding": {"x": {"datum": 531, "type": "quantitative", "scale": {"domain": [80, 1000], "nice": false, "zero": false}, "axis": null}, "x2": {"datum": 599}, "y": {"datum": 1578, "type": "quantitative", "scale": {"type": "log", "domain": [0.00054, 10000], "nice": false}, "axis": null}, "y2": {"datum": 3800}}},
{"data": {"values": [{}]}, "mark": {"type": "rule", "color": "black", "strokeWidth": 1.2, "strokeDash": [5, 4]},
 "encoding": {"x": {"datum": 531, "type": "quantitative", "scale": {"domain": [80, 1000], "nice": false, "zero": false}, "axis": null}, "x2": {"datum": 599}, "y": {"datum": 2427, "type": "quantitative", "scale": {"type": "log", "domain": [0.00054, 10000], "nice": false}, "axis": null}}},
{"data": {"values": [{}]}, "mark": {"type": "rule", "color": "#bd3a32", "strokeWidth": 2},
 "encoding": {"x": {"datum": 531, "type": "quantitative", "scale": {"domain": [80, 1000], "nice": false, "zero": false}, "axis": null}, "x2": {"datum": 599}, "y": {"datum": 627, "type": "quantitative", "scale": {"type": "log", "domain": [0.00054, 10000], "nice": false}, "axis": null}}},
{"data": {"values": [{}]}, "mark": {"type": "rect", "color": "#c8c8c8", "opacity": 0.55},
 "encoding": {"x": {"datum": 531, "type": "quantitative", "scale": {"domain": [80, 1000], "nice": false, "zero": false}, "axis": null}, "x2": {"datum": 599}, "y": {"datum": 103, "type": "quantitative", "scale": {"type": "log", "domain": [0.00054, 10000], "nice": false}, "axis": null}, "y2": {"datum": 277}}}
]
}
], "spacing": 115, "bounds": "flush"},
{
"width": 380, "height": 273,
"title": {"text": "\u03c4\u0303-\u03c4\u0303; \u03c4\u0303 \u2192 \u03c4 G\u0303"},
"resolve": {"axis": {"x": "independent", "y": "independent"}},
"layer": [
{"data": {"name": "p3"}, "transform": [{"filter": "datum.s == 'band'"}],
 "mark": {"type": "line", "fill": "#ffe680", "stroke": "transparent", "clip": true},
 "encoding": {
  "x": {"field": "m", "type": "quantitative", "scale": {"domain": [80, 1000], "nice": false, "zero": false},
        "axis": {"values": [100,200,300,400,500,600,700,800,900,1000], "format": "d", "tickSize": -9, "labelPadding": 13, "domain": true, "domainWidth": 1.5, "title": "m( \u03c4\u0303 ) [GeV]", "titleFont": "DejaVu Sans", "titleFontSize": 14.5, "titleAnchor": "end", "titlePadding": 9}},
  "y": {"field": "t", "type": "quantitative", "scale": {"type": "log", "domain": [0.00054, 10000], "nice": false},
        "axis": {"values": [0.001,0.01,0.1,1,10,100,1000,10000], "tickSize": -9, "labelPadding": 11, "domain": true, "domainWidth": 1.5, "labelExpr": "['10\u207b\u00b3','10\u207b\u00b2','10\u207b\u00b9','1','10','10\u00b2','10\u00b3','10\u2074'][round(log(datum.value)/LN10)+3]", "title": "Lifetime [ns]", "titleAnchor": "end", "titlePadding": 16.5}},
  "order": {"field": "i", "type": "quantitative"}}},
{"data": {"name": "p3"}, "transform": [{"filter": "datum.s == 'obs'"}],
 "mark": {"type": "line", "color": "#bd3a32", "strokeWidth": 2, "clip": true},
 "encoding": {
  "x": {"field": "m", "type": "quantitative", "scale": {"domain": [80, 1000], "nice": false, "zero": false},
        "axis": {"values": [80,120,140,160,180,220,240,260,280,320,340,360,380,420,440,460,480,520,540,560,580,620,640,660,680,720,740,760,780,820,840,860,880,920,940,960,980], "tickSize": -4.5, "labels": false, "domain": false, "title": null}},
  "y": {"field": "t", "type": "quantitative", "scale": {"type": "log", "domain": [0.00054, 10000], "nice": false},
        "axis": {"values": [0.0006,0.0007,0.0008,0.0009,0.002,0.003,0.004,0.005,0.006,0.007,0.008,0.009,0.02,0.03,0.04,0.05,0.06,0.07,0.08,0.09,0.2,0.3,0.4,0.5,0.6,0.7,0.8,0.9,2,3,4,5,6,7,8,9,20,30,40,50,60,70,80,90,200,300,400,500,600,700,800,900,2000,3000,4000,5000,6000,7000,8000,9000], "tickSize": -4.5, "labels": false, "domain": false, "title": null}},
  "order": {"field": "i", "type": "quantitative"}}},
{"data": {"name": "p3"}, "transform": [{"filter": "datum.s == 'exp'"}],
 "mark": {"type": "line", "color": "black", "strokeWidth": 1.2, "strokeDash": [5, 4], "clip": true},
 "encoding": {
  "x": {"field": "m", "type": "quantitative", "scale": {"domain": [80, 1000], "nice": false, "zero": false}, "axis": null},
  "y": {"field": "t", "type": "quantitative", "scale": {"type": "log", "domain": [0.00054, 10000], "nice": false}, "axis": null},
  "order": {"field": "i", "type": "quantitative"}}},
{"data": {"name": "p3"}, "transform": [{"filter": "datum.s == 'prl'"}],
 "mark": {"type": "line", "fill": "#c8c8c8", "stroke": "transparent", "opacity": 0.55, "clip": true},
 "encoding": {
  "x": {"field": "m", "type": "quantitative", "scale": {"domain": [80, 1000], "nice": false, "zero": false}, "axis": null},
  "y": {"field": "t", "type": "quantitative", "scale": {"type": "log", "domain": [0.00054, 10000], "nice": false}, "axis": null},
  "order": {"field": "i", "type": "quantitative"}}},
{"data": {"values": [{}]}, "mark": {"type": "text", "text": "ATLAS", "fontStyle": "italic", "fontWeight": "bold", "fontSize": 16.5, "align": "left", "baseline": "middle", "color": "black"},
 "encoding": {"x": {"datum": 116, "type": "quantitative", "scale": {"domain": [80, 1000], "nice": false, "zero": false}, "axis": null}, "y": {"datum": 2700, "type": "quantitative", "scale": {"type": "log", "domain": [0.00054, 10000], "nice": false}, "axis": null}}},
{"data": {"values": [{}]}, "mark": {"type": "text", "text": "Preliminary", "fontSize": 16.5, "align": "left", "baseline": "middle", "color": "black"},
 "encoding": {"x": {"datum": 267, "type": "quantitative", "scale": {"domain": [80, 1000], "nice": false, "zero": false}, "axis": null}, "y": {"datum": 2700, "type": "quantitative", "scale": {"type": "log", "domain": [0.00054, 10000], "nice": false}, "axis": null}}},
{"data": {"values": [{}]}, "mark": {"type": "text", "text": ["\u221as=13 TeV, 140 fb\u207b\u00b9", "\u221as=13.6 TeV, 56.3 fb\u207b\u00b9", "All limits at 95% CL"], "lineHeight": 17, "fontSize": 12, "align": "left", "baseline": "middle", "color": "black"},
 "encoding": {"x": {"datum": 117, "type": "quantitative", "scale": {"domain": [80, 1000], "nice": false, "zero": false}, "axis": null}, "y": {"datum": 757, "type": "quantitative", "scale": {"type": "log", "domain": [0.00054, 10000], "nice": false}, "axis": null}}},
{"data": {"values": [{}]}, "mark": {"type": "text", "text": ["Expected Limit (\u00b11 \u03c3\u2091\u2093\u209a)", "Observed Limit", "PRL 127 (2021) 051802"], "lineHeight": 22, "fontSize": 11.5, "align": "left", "baseline": "middle", "color": "black"},
 "encoding": {"x": {"datum": 613, "type": "quantitative", "scale": {"domain": [80, 1000], "nice": false, "zero": false}, "axis": null}, "y": {"datum": 2455, "type": "quantitative", "scale": {"type": "log", "domain": [0.00054, 10000], "nice": false}, "axis": null}}},
{"data": {"values": [{}]}, "mark": {"type": "rect", "color": "#ffe680"},
 "encoding": {"x": {"datum": 530, "type": "quantitative", "scale": {"domain": [80, 1000], "nice": false, "zero": false}, "axis": null}, "x2": {"datum": 599}, "y": {"datum": 1622, "type": "quantitative", "scale": {"type": "log", "domain": [0.00054, 10000], "nice": false}, "axis": null}, "y2": {"datum": 4100}}},
{"data": {"values": [{}]}, "mark": {"type": "rule", "color": "black", "strokeWidth": 1.2, "strokeDash": [5, 4]},
 "encoding": {"x": {"datum": 530, "type": "quantitative", "scale": {"domain": [80, 1000], "nice": false, "zero": false}, "axis": null}, "x2": {"datum": 599}, "y": {"datum": 2455, "type": "quantitative", "scale": {"type": "log", "domain": [0.00054, 10000], "nice": false}, "axis": null}}},
{"data": {"values": [{}]}, "mark": {"type": "rule", "color": "#bd3a32", "strokeWidth": 2},
 "encoding": {"x": {"datum": 530, "type": "quantitative", "scale": {"domain": [80, 1000], "nice": false, "zero": false}, "axis": null}, "x2": {"datum": 599}, "y": {"datum": 656, "type": "quantitative", "scale": {"type": "log", "domain": [0.00054, 10000], "nice": false}, "axis": null}}},
{"data": {"values": [{}]}, "mark": {"type": "rect", "color": "#c8c8c8", "opacity": 0.55},
 "encoding": {"x": {"datum": 530, "type": "quantitative", "scale": {"domain": [80, 1000], "nice": false, "zero": false}, "axis": null}, "x2": {"datum": 599}, "y": {"datum": 106, "type": "quantitative", "scale": {"type": "log", "domain": [0.00054, 10000], "nice": false}, "axis": null}, "y2": {"datum": 281}}}
]
}
],
"spacing": 20,
"center": true
}
